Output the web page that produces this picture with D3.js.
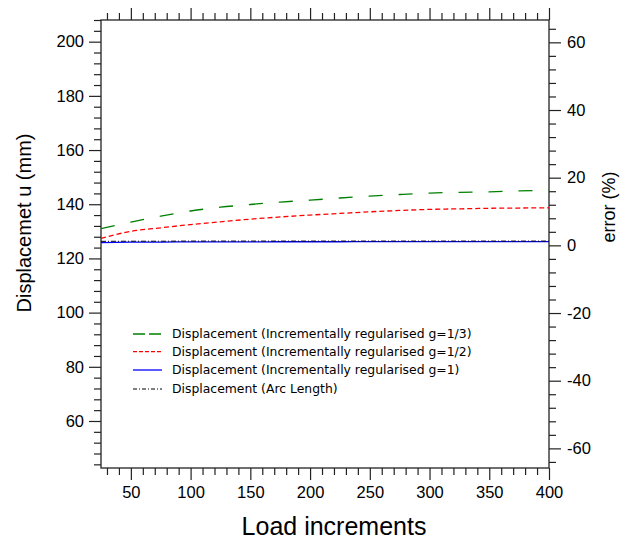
<!DOCTYPE html>
<html>
<head>
<meta charset="utf-8">
<script src="https://cdn.jsdelivr.net/npm/d3@7"></script>
<style>
html,body{margin:0;padding:0;background:#fff;}
svg{display:block;}
</style>
</head>
<body>
<svg id="chart" width="621" height="544"></svg>
<script>
// ---- data ----
const loadIncrements = [25, 50, 75, 100, 125, 150, 175, 200, 225, 250, 275, 300, 325, 350, 375, 400];
const dispG13 = [131.0, 133.4, 135.6, 137.5, 138.9, 139.9, 140.8, 141.5, 142.3, 143.0, 143.6, 144.1, 144.4, 144.6, 144.9, 145.1];
const dispG12 = [127.4, 130.0, 131.3, 132.5, 133.5, 134.5, 135.3, 136.0, 136.6, 137.2, 137.7, 138.1, 138.3, 138.5, 138.6, 138.7];
const dispG1  = [125.8, 126.0, 126.05, 126.1, 126.1, 126.1, 126.15, 126.15, 126.15, 126.2, 126.2, 126.2, 126.2, 126.2, 126.2, 126.2];
const dispArc = [126.3, 126.35, 126.35, 126.4, 126.4, 126.4, 126.4, 126.4, 126.4, 126.4, 126.4, 126.4, 126.4, 126.4, 126.4, 126.4];
const seriesNames = [
  "Displacement (Incrementally regularised g=1/3)",
  "Displacement (Incrementally regularised g=1/2)",
  "Displacement (Incrementally regularised g=1)",
  "Displacement (Arc Length)"
];
const xMajorTicks = [50, 100, 150, 200, 250, 300, 350, 400];
const yLeftMajorTicks = [60, 80, 100, 120, 140, 160, 180, 200];
const yRightMajorTicks = [-60, -40, -20, 0, 20, 40, 60];
const xTitle = "Load increments";
const yLeftTitle = "Displacemet u (mm)";
const yRightTitle = "error (%)";

// ---- layout ----
const L = 101, R = 549, T = 20, B = 468;
const svg = d3.select("#chart");
const x = d3.scaleLinear().domain([25, 400]).range([L, R]);
const yL = d3.scaleLinear().domain([42.65, 208.0]).range([B, T]);
const yR = d3.scaleLinear().domain([-65.8, 66.6]).range([B, T]);

const tickFont = "'Liberation Sans', Arial, Helvetica, sans-serif";
const axisColor = "#222";
const fmt = d => String(d);

function styleAxis(g) {
  g.select(".domain").remove();
  g.selectAll("line").attr("stroke", axisColor).attr("stroke-width", 1.2);
  g.selectAll("text").attr("font-family", tickFont).attr("font-size", 16.5).attr("fill", "#000");
}

const xMinor = d3.range(30, 401, 10).filter(v => v % 50 !== 0);
const yLMinor = d3.range(44, 209, 4).filter(v => v % 20 !== 0);
const yRMinor = d3.range(-64, 67, 4).filter(v => v % 20 !== 0);

// bottom axis
svg.append("g").attr("transform", `translate(0,${B})`)
  .call(d3.axisBottom(x).tickValues(xMajorTicks).tickSize(12).tickPadding(6).tickFormat(fmt))
  .call(styleAxis);
svg.append("g").attr("transform", `translate(0,${B})`)
  .call(d3.axisBottom(x).tickValues(xMinor).tickSize(7).tickFormat(""))
  .call(styleAxis);
// top axis
svg.append("g").attr("transform", `translate(0,${T})`)
  .call(d3.axisTop(x).tickValues(xMajorTicks).tickSize(12).tickFormat(""))
  .call(styleAxis);
svg.append("g").attr("transform", `translate(0,${T})`)
  .call(d3.axisTop(x).tickValues(xMinor).tickSize(7).tickFormat(""))
  .call(styleAxis);
// left axis
svg.append("g").attr("transform", `translate(${L},0)`)
  .call(d3.axisLeft(yL).tickValues(yLeftMajorTicks).tickSize(12).tickPadding(5).tickFormat(fmt))
  .call(styleAxis);
svg.append("g").attr("transform", `translate(${L},0)`)
  .call(d3.axisLeft(yL).tickValues(yLMinor).tickSize(7).tickFormat(""))
  .call(styleAxis);
// right axis
svg.append("g").attr("transform", `translate(${R},0)`)
  .call(d3.axisRight(yR).tickValues(yRightMajorTicks).tickSize(12).tickPadding(6).tickFormat(fmt))
  .call(styleAxis);
svg.append("g").attr("transform", `translate(${R},0)`)
  .call(d3.axisRight(yR).tickValues(yRMinor).tickSize(7).tickFormat(""))
  .call(styleAxis);

// frame
svg.append("rect").attr("x", L).attr("y", T).attr("width", R - L).attr("height", B - T)
  .attr("fill", "none").attr("stroke", axisColor).attr("stroke-width", 1.3);

// ---- series ----
const series = [
  {name: seriesNames[0], values: dispG13, color: "#008000", dash: "14,16", legendDash: "12,4", width: 1.3},
  {name: seriesNames[1], values: dispG12, color: "#ff0000", dash: "5,3", legendDash: "4,2", width: 1.3},
  {name: seriesNames[2], values: dispG1, color: "#0000ff", dash: null, legendDash: null, width: 1.3},
  {name: seriesNames[3], values: dispArc, color: "#000000", dash: "5,2,1,2", legendDash: "4,2,1,2", width: 1}
];

const line = d3.line().x(d => x(d[0])).y(d => yL(d[1])).curve(d3.curveMonotoneX);
const plot = svg.append("g");
series.forEach(s => {
  plot.append("path")
    .datum(loadIncrements.map((v, i) => [v, s.values[i]]))
    .attr("d", line)
    .attr("fill", "none")
    .attr("stroke", s.color)
    .attr("stroke-width", s.width)
    .attr("stroke-dasharray", s.dash);
});

// ---- legend ----
const legY = [334, 351.7, 370, 389];
const leg = svg.append("g");
series.forEach((s, i) => {
  leg.append("line").attr("x1", 133).attr("x2", 162).attr("y1", legY[i]).attr("y2", legY[i])
    .attr("stroke", s.color).attr("stroke-width", s.width).attr("stroke-dasharray", s.legendDash);
  leg.append("text").attr("x", 172).attr("y", legY[i] + 4.4)
    .attr("font-family", "'DejaVu Sans', sans-serif").attr("font-size", 12.4)
    .attr("fill", "#000").text(s.name);
});

// ---- titles ----
svg.append("text").attr("x", 334).attr("y", 535).attr("text-anchor", "middle")
  .attr("font-family", tickFont).attr("font-size", 25).attr("fill", "#000").text(xTitle);
svg.append("text").attr("transform", `translate(31,223) rotate(-90)`).attr("text-anchor", "middle")
  .attr("font-family", tickFont).attr("font-size", 20).attr("fill", "#000").text(yLeftTitle);
svg.append("text").attr("transform", `translate(615,207) rotate(-90)`).attr("text-anchor", "middle")
  .attr("font-family", tickFont).attr("font-size", 18).attr("fill", "#000").text(yRightTitle);
</script>
</body>
</html>
